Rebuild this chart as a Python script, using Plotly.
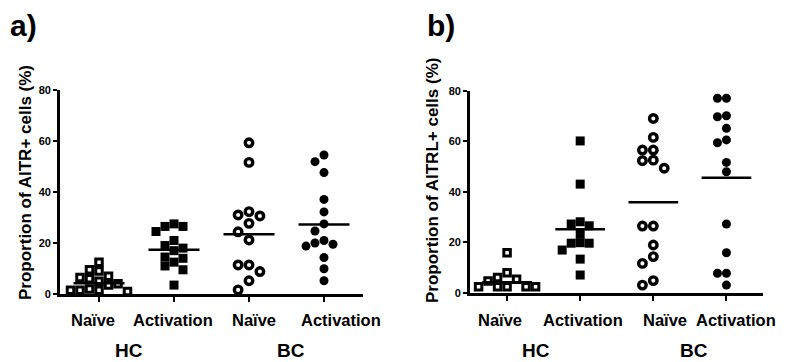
import plotly.graph_objects as go

categories = ["Naïve", "Activation", "Naïve", "Activation"]
groups = ["HC", "BC"]

# Panel a: AITR+
a_hc_naive = [12.5, 9.5, 9.0, 7.0, 6.5, 6.0, 5.0, 4.0, 3.5, 2.0, 1.5, 1.5, 1.5, 1.0]
a_hc_act = [27.5, 26.5, 26.5, 24.5, 21.0, 19.0, 18.0, 17.0, 14.5, 14.0, 12.5, 11.0, 9.5, 3.5]
a_bc_naive = [59.3, 51.6, 32.3, 31.0, 30.6, 27.7, 24.4, 21.2, 11.4, 11.4, 8.8, 5.2, 1.6]
a_bc_act = [54.5, 51.9, 47.6, 37.1, 32.2, 27.5, 24.7, 21.0, 20.0, 19.5, 18.8, 14.3, 9.9, 5.2]
a_means = [4.2, 17.4, 23.4, 27.3]

# Panel b: AITRL+
b_hc_naive = [15.8, 7.9, 6.0, 5.3, 4.6, 2.4, 2.4, 2.4, 2.4, 2.4]
b_hc_act = [60.1, 43.0, 28.1, 27.2, 26.5, 23.2, 19.8, 19.6, 19.6, 16.9, 13.3, 7.0]
b_bc_naive = [69.0, 61.5, 56.5, 56.5, 52.5, 52.3, 49.3, 26.4, 26.4, 18.9, 14.3, 11.6, 4.8, 3.0]
b_bc_act = [77.0, 77.0, 70.1, 69.7, 65.1, 60.5, 59.4, 51.6, 47.9, 27.2, 15.8, 7.7, 7.7, 3.0]
b_means = [4.1, 25.1, 35.8, 45.5]

y_ticks = [0, 20, 40, 60, 80]
y_titles = ["Proportion of AITR+ cells (%)", "Proportion of AITRL+ cells (%)"]
panel_labels = ["a)", "b)"]

FONT = "Liberation Sans, Arial, sans-serif"
PAGE_W, PAGE_H = 789, 362
OFF = 8  # default body margin of the page
W, H = PAGE_W - OFF, PAGE_H - OFF


def xp(px):
    return (px - OFF) / W


def yp(py):
    return 1 - (py - OFF) / H


panels = [
    dict(data=[a_hc_naive, a_hc_act, a_bc_naive, a_bc_act], means=a_means,
         xdom=[xp(60), xp(363)], xr=[-0.52, 3.52], ydom=[yp(294), yp(90)], xa="x", ya="y",
         lab_x=8, title_xy=(26, 183), label_pos=[-0.08, 0.98, 2.07, 3.23]),
    dict(data=[b_hc_naive, b_hc_act, b_bc_naive, b_bc_act], means=b_means,
         xdom=[xp(470), xp(763)], xr=[-0.507, 3.5], ydom=[yp(292.7), yp(90.7)], xa="x2", ya="y2",
         lab_x=425, title_xy=(432, 181), label_pos=[-0.1, 1.04, 2.16, 3.13]),
]

# symbol, size, border width, open?
styles = [("square", 6.5, 3.0, True), ("square", 9, 0, False),
          ("circle", 7.5, 3.4, True), ("circle", 9, 0, False)]


def beeswarm(vals, px_per_x, px_per_y, diam):
    placed = []
    offs = []
    cands = [0]
    for j in range(1, 8):
        cands += [-j, j]
    for v in vals:
        for c in cands:
            dx = c * diam
            ok = True
            for (pdx, pv) in placed:
                if ((dx - pdx) ** 2 + ((v - pv) * px_per_y) ** 2) ** 0.5 < diam * 0.9:
                    ok = False
                    break
            if ok:
                placed.append((dx, v))
                offs.append(dx / px_per_x)
                break
    return offs


fig = go.Figure()
for p_i, p in enumerate(panels):
    px_per_x = (p["xdom"][1] - p["xdom"][0]) * W / (p["xr"][1] - p["xr"][0])
    px_per_y = (p["ydom"][1] - p["ydom"][0]) * H / 80
    for ci, vals in enumerate(p["data"]):
        sym, ms, lw, open_ = styles[ci]
        offs = beeswarm(vals, px_per_x, px_per_y, ms + lw)
        fig.add_trace(go.Scatter(
            x=[ci + o for o in offs], y=vals, mode="markers",
            xaxis=p["xa"], yaxis=p["ya"], cliponaxis=False, showlegend=False,
            marker=dict(symbol=sym, size=ms,
                        color="white" if open_ else "black",
                        line=dict(color="black", width=lw)),
        ))
        m = p["means"][ci]
        fig.add_trace(go.Scatter(
            x=[ci - 0.34, ci + 0.34], y=[m, m], mode="lines",
            xaxis=p["xa"], yaxis=p["ya"], cliponaxis=False, showlegend=False,
            line=dict(color="black", width=2.5),
        ))

axis_common = dict(showline=True, linecolor="black", linewidth=2.8, showgrid=False,
                   zeroline=False, ticks="outside", tickcolor="black", tickwidth=2,
                   ticklen=5, automargin=False)

layout = dict(width=W, height=H, margin=dict(l=0, r=0, t=0, b=0, autoexpand=False),
              plot_bgcolor="white", paper_bgcolor="white",
              font=dict(family=FONT, color="black"))
for p_i, p in enumerate(panels):
    sx = "" if p_i == 0 else "2"
    layout["xaxis" + sx] = dict(axis_common, domain=p["xdom"], range=p["xr"],
                                tickvals=[0, 1, 2, 3], showticklabels=False, anchor="y" + sx)
    layout["yaxis" + sx] = dict(axis_common, domain=p["ydom"], range=[0, 80],
                                tickvals=y_ticks, ticklen=4,
                                tickfont=dict(size=11, weight="bold", family=FONT),
                                anchor="x" + sx)
fig.update_layout(**layout)

anns = []
for p_i, p in enumerate(panels):
    sx = "" if p_i == 0 else "2"
    for cat, lx in zip(categories, p["label_pos"]):
        anns.append(dict(text=cat, x=lx, xref="x" + sx, y=yp(320), yref="paper",
                         showarrow=False, xanchor="center", yanchor="middle",
                         font=dict(size=16.5, weight="bold", family=FONT)))
    for g, gx in zip(groups, [0.4, 2.56]):
        anns.append(dict(text=g, x=gx, xref="x" + sx, y=yp(350), yref="paper",
                         showarrow=False, xanchor="center", yanchor="middle",
                         font=dict(size=19, weight="bold", family=FONT)))
    anns.append(dict(text=panel_labels[p_i], x=xp(p["lab_x"]), xref="paper",
                     y=yp(26), yref="paper", showarrow=False, xanchor="left", yanchor="middle",
                     font=dict(size=30, weight="bold", family=FONT)))
    tx, ty = p["title_xy"]
    anns.append(dict(text=y_titles[p_i], x=xp(tx), xref="paper", y=yp(ty), yref="paper",
                     textangle=-90, showarrow=False, xanchor="center", yanchor="middle",
                     font=dict(size=17, weight="bold", family=FONT)))
fig.update_layout(annotations=anns)

fig.write_html("out.html")
